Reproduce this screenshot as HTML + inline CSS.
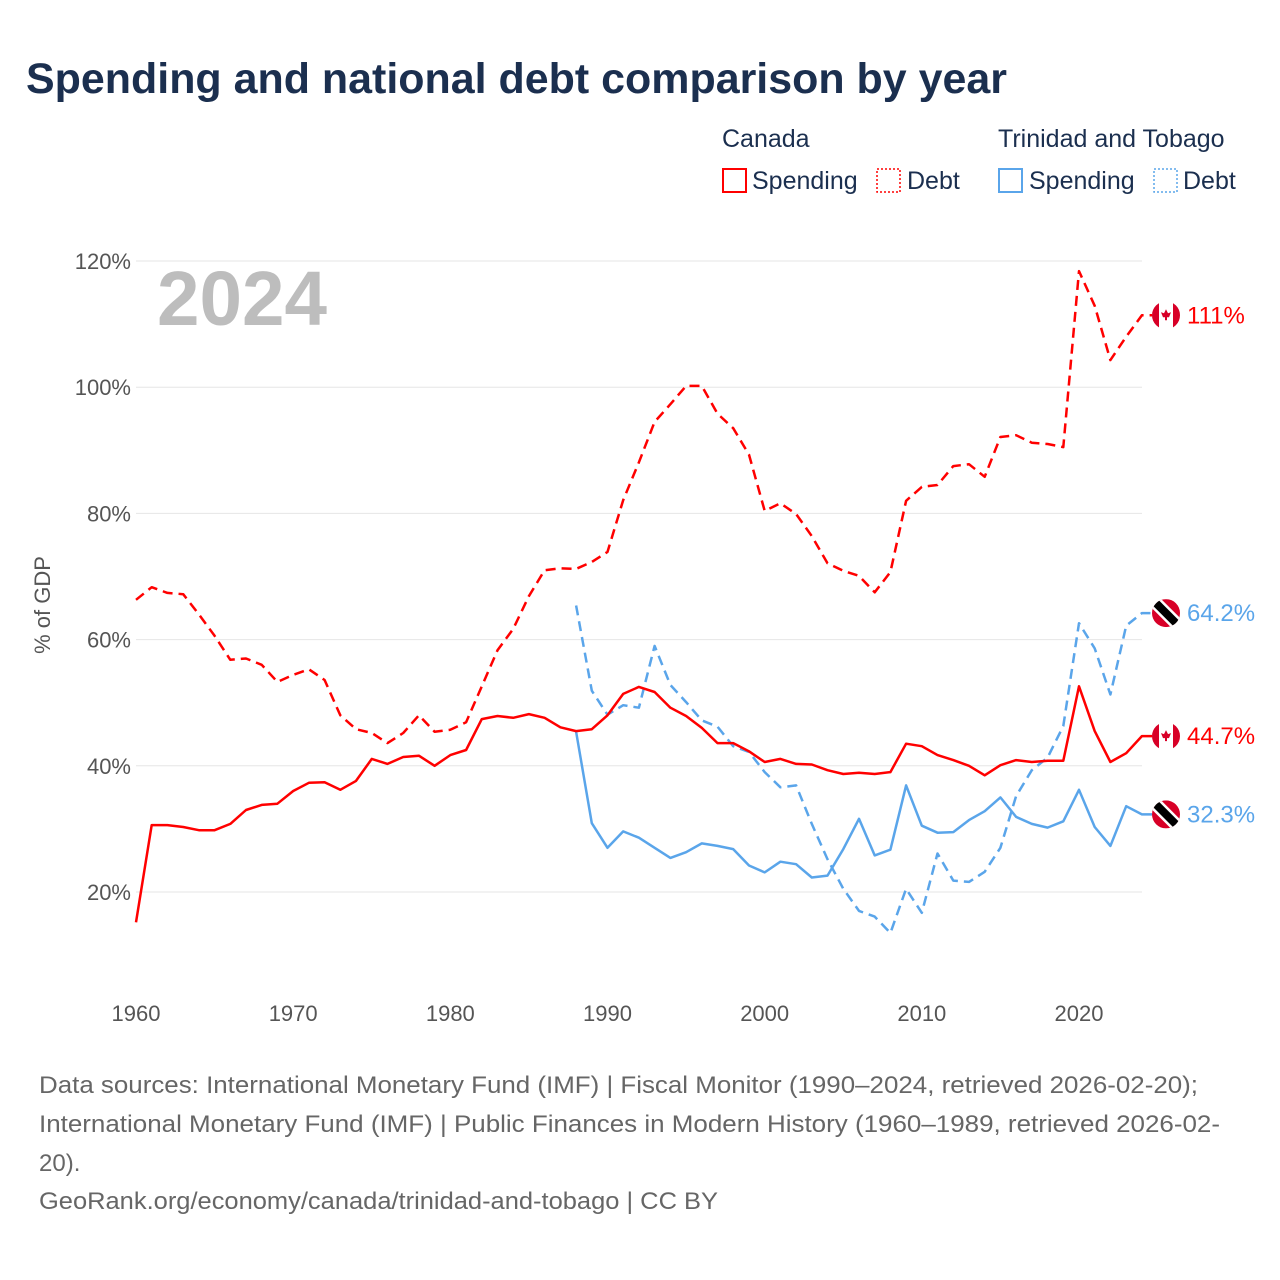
<!DOCTYPE html>
<html><head><meta charset="utf-8">
<style>
body{margin:0;background:#fff;width:1280px;height:1280px;overflow:hidden;font-family:"Liberation Sans",sans-serif;}
svg{display:block}
.title{font-weight:bold;font-size:43px;fill:#1b2f4f}
.leg{font-size:25px;fill:#1b2f4f}
.tick{font-size:22px;fill:#555}
.foot{font-size:24px;fill:#666}
</style></head><body>
<svg id="chart" width="1280" height="1280" viewBox="0 0 1280 1280">
<text x="26" y="93" class="title" textLength="981" lengthAdjust="spacingAndGlyphs">Spending and national debt comparison by year</text>
<g>
<text x="722" y="147" class="leg">Canada</text>
<text x="998" y="147" class="leg">Trinidad and Tobago</text>
<rect x="723" y="169" width="23" height="23" fill="none" stroke="#f00" stroke-width="2"/>
<text x="752" y="189" class="leg">Spending</text>
<rect x="877" y="169" width="23" height="23" fill="none" stroke="#f00" stroke-width="1.5" stroke-dasharray="2 2"/>
<text x="907" y="189" class="leg">Debt</text>
<rect x="999" y="169" width="23" height="23" fill="none" stroke="#5aa5ea" stroke-width="2"/>
<text x="1029" y="189" class="leg">Spending</text>
<rect x="1154" y="169" width="23" height="23" fill="none" stroke="#5aa5ea" stroke-width="1.5" stroke-dasharray="2 2"/>
<text x="1183" y="189" class="leg">Debt</text>
</g>
<g id="grid"></g>
<text x="157" y="325" font-size="77" font-weight="bold" fill="#bdbdbd" textLength="170" lengthAdjust="spacingAndGlyphs">2024</text>
<text transform="translate(50,605) rotate(-90)" text-anchor="middle" class="tick" font-size="23">% of GDP</text>
<g id="series"></g>
<g id="ends"></g>
<g>
<text x="39" y="1093" class="foot" textLength="1159" lengthAdjust="spacingAndGlyphs">Data sources: International Monetary Fund (IMF) | Fiscal Monitor (1990–2024, retrieved 2026-02-20);</text>
<text x="39" y="1132" class="foot" textLength="1181" lengthAdjust="spacingAndGlyphs">International Monetary Fund (IMF) | Public Finances in Modern History (1960–1989, retrieved 2026-02-</text>
<text x="39" y="1171" class="foot">20).</text>
<text x="39" y="1209" class="foot" textLength="679" lengthAdjust="spacingAndGlyphs">GeoRank.org/economy/canada/trinidad-and-tobago | CC BY</text>
</g>
</svg>
<script>
const yTicks=[20,40,60,80,100,120];
const xTicks=[1960,1970,1980,1990,2000,2010,2020];
const caStart=1960;
const caSpending=[15.2,30.6,30.6,30.3,29.8,29.8,30.8,33,33.8,34,36,37.3,37.4,36.2,37.6,41.1,40.3,41.4,41.6,40,41.7,42.5,47.4,47.9,47.6,48.2,47.6,46.1,45.5,45.8,48,51.4,52.5,51.7,49.2,47.9,46,43.6,43.6,42.3,40.6,41.1,40.3,40.2,39.3,38.7,38.9,38.7,39,43.5,43.1,41.7,40.9,40,38.5,40.1,40.9,40.6,40.8,40.8,52.6,45.5,40.6,42,44.7];
const caDebt=[66.3,68.3,67.4,67.2,64,60.6,56.8,57,56,53.3,54.4,55.3,53.6,48,45.8,45.2,43.6,45.2,48,45.4,45.7,46.9,52.6,58.3,61.7,66.9,71,71.3,71.2,72.3,73.9,82.1,88.1,94.5,97.3,100.2,100.2,95.8,93.5,89.3,80.4,81.6,79.9,76.4,72.1,70.9,70.1,67.5,70.7,82,84.2,84.5,87.5,87.8,85.8,92.1,92.4,91.2,91,90.5,118.4,112.9,104.3,108,111.4];
const ttStart=1988;
const ttSpending=[45.4,30.9,27,29.6,28.6,27,25.4,26.3,27.7,27.3,26.8,24.2,23.1,24.8,24.4,22.3,22.6,26.8,31.6,25.8,26.7,36.9,30.5,29.4,29.5,31.4,32.8,35,31.9,30.8,30.2,31.2,36.2,30.3,27.3,33.6,32.3];
const ttDebt=[65.4,51.9,48.1,49.6,49.2,59,52.8,50.1,47.2,46.2,43.1,42.2,39,36.6,36.9,30.8,25.2,20.5,17,16.1,13.5,20.5,16.7,26.1,21.8,21.6,23.2,27,35.2,39.3,41.3,46.3,62.6,58.6,51.3,62.2,64.2];
const endLabels=["111%","64.2%","44.7%","32.3%"];

const NS="http://www.w3.org/2000/svg";
const X=yr=>136+(yr-1960)*(943/60);
const Y=v=>892-(v-20)*6.31;
function mk(tag,attrs,parent){const e=document.createElementNS(NS,tag);for(const k in attrs)e.setAttribute(k,attrs[k]);parent.appendChild(e);return e;}
const grid=document.getElementById('grid');
yTicks.forEach(t=>{
 const l=mk('line',{x1:136,x2:1142,y1:Y(t),y2:Y(t),stroke:'#e6e6e6','stroke-width':1},grid);
 
 
 const tx=mk('text',{x:131,y:Y(t)+8,'text-anchor':'end',class:'tick'},grid);
 tx.textContent=t+'%';
 
 
});
xTicks.forEach(t=>{
 const tx=mk('text',{x:X(t),y:1021,'text-anchor':'middle',class:'tick'},grid);
 tx.textContent=t;
 
 
});
const sg=document.getElementById('series');
function line(arr,start,color,dash,name){
 const d=arr.map((v,i)=>(i?'L':'M')+X(start+i).toFixed(1)+','+Y(v).toFixed(1)).join('')+'H1152';
 const p=mk('path',{d:d,fill:'none',stroke:color,'stroke-width':2.5,'stroke-linejoin':'round'},sg);
 if(dash)p.setAttribute('stroke-dasharray','10 6');
 
 
}
line(caDebt,caStart,'#ff0000',true,'canada-debt-line');
line(ttDebt,ttStart,'#5aa5ea',true,'tt-debt-line');
line(ttSpending,ttStart,'#5aa5ea',false,'tt-spending-line');
line(caSpending,caStart,'#ff0000',false,'canada-spending-line');
const eg=document.getElementById('ends');
const ends=[[caDebt,'#ff0000','ca'],[ttDebt,'#5aa5ea','tt'],[caSpending,'#ff0000','ca'],[ttSpending,'#5aa5ea','tt']];
const names=['canada-debt','tt-debt','canada-spending','tt-spending'];
ends.forEach((e,i)=>{
 const v=e[0][e[0].length-1];const cx=1166,cy=Y(v);
 const g=mk('g',{},eg);
 
 
 const id='c'+i;
 const cp=mk('clipPath',{id:id},g);mk('circle',{cx:cx,cy:cy,r:14},cp);
 const fg=mk('g',{'clip-path':'url(#'+id+')'},g);
 if(e[2]==='ca'){
  mk('rect',{x:cx-14,y:cy-14,width:28,height:28,fill:'#fff'},fg);
  mk('rect',{x:cx-14,y:cy-14,width:7,height:28,fill:'#d80027'},fg);
  mk('rect',{x:cx+7,y:cy-14,width:7,height:28,fill:'#d80027'},fg);
  mk('path',{d:`M${cx},${cy-6}L${cx+2},${cy-2}L${cx+5},${cy-3}L${cx+3},${cy+2}L${cx+1},${cy+2}L${cx+1},${cy+5}L${cx-1},${cy+5}L${cx-1},${cy+2}L${cx-3},${cy+2}L${cx-5},${cy-3}L${cx-2},${cy-2}Z`,fill:'#d80027'},fg);
 }else{
  mk('rect',{x:cx-14,y:cy-14,width:28,height:28,fill:'#d80027'},fg);
  mk('line',{x1:cx-16,y1:cy-16,x2:cx+16,y2:cy+16,stroke:'#fff',"stroke-width":13},fg);
  mk('line',{x1:cx-16,y1:cy-16,x2:cx+16,y2:cy+16,stroke:'#000',"stroke-width":8},fg);
 }
 const t=mk('text',{x:1187,y:cy+8,fill:e[1],'font-size':24},eg);
 t.textContent=endLabels[i];
 
 
});
</script>
</body></html>
